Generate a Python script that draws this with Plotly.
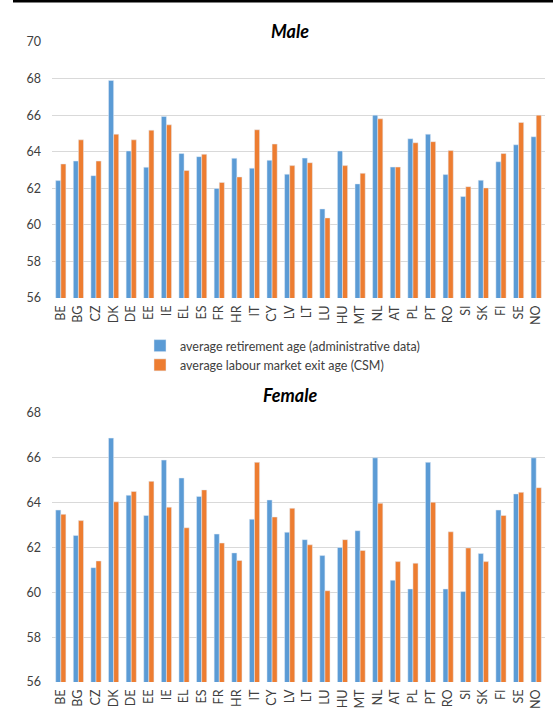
import plotly.graph_objects as go

countries = ['BE', 'BG', 'CZ', 'DK', 'DE', 'EE', 'IE', 'EL', 'ES', 'FR', 'HR', 'IT', 'CY', 'LV',
             'LT', 'LU', 'HU', 'MT', 'NL', 'AT', 'PL', 'PT', 'RO', 'SI', 'SK', 'FI', 'SE', 'NO']

male_admin = [62.42, 63.49, 62.69, 67.9, 64.04, 63.15, 65.93, 63.9, 63.73, 61.99, 63.64, 63.1, 63.53, 62.77,
              63.65, 60.87, 64.04, 62.24, 66.0, 63.16, 64.71, 64.96, 62.75, 61.55, 62.44, 63.45, 64.38, 64.82]
male_csm = [63.33, 64.65, 63.49, 64.96, 64.65, 65.18, 65.47, 62.97, 63.86, 62.32, 62.62, 65.2, 64.42, 63.24,
            63.4, 60.38, 63.24, 62.82, 65.8, 63.16, 64.49, 64.55, 64.07, 62.09, 62.02, 63.9, 65.6, 66.0]

female_admin = [63.67, 62.54, 61.1, 66.88, 64.33, 63.43, 65.9, 65.1, 64.28, 62.6, 61.76, 63.26, 64.12, 62.68,
                62.35, 61.64, 62.0, 62.75, 66.0, 60.54, 60.15, 65.8, 60.15, 60.04, 61.73, 63.67, 64.39, 66.0]
female_csm = [63.48, 63.2, 61.4, 64.04, 64.5, 64.95, 63.8, 62.88, 64.57, 62.2, 61.42, 65.8, 63.36, 63.75,
              62.12, 60.07, 62.35, 61.87, 63.97, 61.37, 61.3, 64.02, 62.7, 61.98, 61.37, 63.43, 64.46, 64.67]

name_admin = 'average retirement age (administrative data)'
name_csm = 'average labour market exit age (CSM)'
blue = '#5B9BD5'
orange = '#ED7D31'
W, H = 553, 710

fig = go.Figure()
fig.add_trace(go.Bar(x=countries, y=male_admin, name=name_admin, marker_color=blue,
                     xaxis='x', yaxis='y', legendgroup='a'))
fig.add_trace(go.Bar(x=countries, y=male_csm, name=name_csm, marker_color=orange,
                     xaxis='x', yaxis='y', legendgroup='b'))
fig.add_trace(go.Bar(x=countries, y=female_admin, name=name_admin, marker_color=blue,
                     xaxis='x2', yaxis='y2', legendgroup='a', showlegend=False))
fig.add_trace(go.Bar(x=countries, y=female_csm, name=name_csm, marker_color=orange,
                     xaxis='x2', yaxis='y2', legendgroup='b', showlegend=False))


def py(px):
    return 1 - px / H


tick_font = dict(family='Lato', size=12.5, color='#404040')
xdom = [52 / W, 545 / W]
xax = dict(domain=xdom, tickangle=-90, tickfont=tick_font, showgrid=False, showline=False,
           ticks='', automargin=False, ticklabelstandoff=4)
yax = dict(tickfont=tick_font, gridcolor='#D9D9D9', gridwidth=1.3, showline=False, ticks='',
           zeroline=False, automargin=False, ticklabelstandoff=10, dtick=2)

fig.update_layout(
    width=W, height=H,
    margin=dict(l=0, r=0, t=0, b=0),
    paper_bgcolor='white', plot_bgcolor='white',
    barmode='group', bargap=0.42, bargroupgap=0,
    xaxis=dict(xax, anchor='y'),
    yaxis=dict(yax, domain=[py(298), py(42)], range=[56, 70], anchor='x'),
    xaxis2=dict(xax, anchor='y2'),
    yaxis2=dict(yax, domain=[py(682), py(413)], range=[56, 68], anchor='x2'),
    legend=dict(x=140 / W, y=py(331), xanchor='left', yanchor='top',
                font=dict(family='Lato', size=12.5, color='#404040'),
                tracegroupgap=0, itemwidth=30, bgcolor='rgba(0,0,0,0)'),
    showlegend=True,
    annotations=[
        dict(text='<b><i>Male</i></b>', x=290 / W, y=py(18), xref='paper', yref='paper',
             showarrow=False, font=dict(family='Lato', size=18, color='black')),
        dict(text='<b><i>Female</i></b>', x=290 / W, y=py(395), xref='paper', yref='paper',
             showarrow=False, font=dict(family='Lato', size=18, color='black')),
    ],
    shapes=[dict(type='line', xref='paper', yref='paper', x0=13 / W, x1=1, y0=py(1), y1=py(1),
                 line=dict(color='black', width=3))],
)

fig.write_html('out.html', config={'displayModeBar': False},
               post_script="document.body.style.margin='0';document.body.style.overflow='hidden';")
